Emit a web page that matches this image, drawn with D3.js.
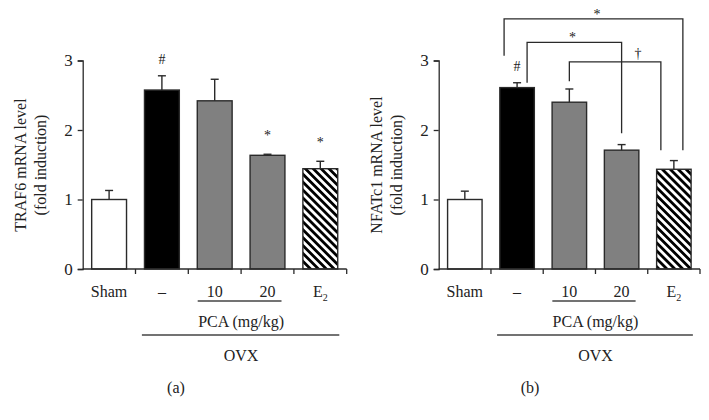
<!DOCTYPE html>
<html><head><meta charset="utf-8">
<script src="https://cdn.jsdelivr.net/npm/d3@7"></script>
<style>
html,body{margin:0;padding:0;background:#fff;}
svg{display:block;}
text{font-family:"Liberation Serif","DejaVu Serif",serif;fill:#222;}
</style></head>
<body>
<svg id="chart" width="709" height="420"></svg>
<script>
// ---- data ----
const categories = ["Sham", "–", "10", "20", "E2"];
const yTicks = [0, 1, 2, 3];
const trafMeans = [1.0, 2.575, 2.42, 1.636, 1.443];
const trafErr   = [0.13, 0.205, 0.31, 0.015, 0.107];
const trafMarks = ["", "#", "", "*", "*"];
const nfatMeans = [1.0, 2.61, 2.40, 1.71, 1.435];
const nfatErr   = [0.12, 0.07, 0.19, 0.08, 0.125];
const nfatMarks = ["", "#", "", "", ""];
// significance brackets for panel b (category indices, heights in fold-units)
const bracketFrom   = [1, 1, 2];
const bracketTo     = [4, 3, 4];
const bracketLabels = ["*", "*", "†"];
const bracketTop    = [3.60, 3.26, 2.98];
const bracketLeftEnd  = [3.07, 2.68, 2.70];
const bracketRightEnd = [1.71, 1.955, 1.71];

const fills = ["#ffffff", "#000000", "#808080", "#808080", "url(#hatch)"];

const svg = d3.select("#chart");
const defs = svg.append("defs");
const pat = defs.append("pattern").attr("id", "hatch")
  .attr("patternUnits", "userSpaceOnUse").attr("width", 5.6).attr("height", 10)
  .attr("patternTransform", "rotate(-45)");
pat.append("rect").attr("width", 5.6).attr("height", 10).attr("fill", "#fff");
pat.append("rect").attr("width", 2.8).attr("height", 10).attr("fill", "#000");

const y = d3.scaleLinear().domain([0, 3]).range([269, 60.5]);
const ink = "#2a2a2a";

function panel(opts) {
  const x = d3.scaleBand().domain(categories).range(opts.xr).paddingInner(0.34).paddingOuter(0.17);
  const g = svg.append("g");
  // y axis
  const yAx = g.append("g").attr("transform", `translate(${opts.xr[0]},0)`)
    .call(d3.axisLeft(y).tickValues(yTicks).tickFormat(d3.format("d")).tickSize(5).tickPadding(5));
  yAx.select(".domain").attr("stroke", ink).attr("stroke-width", 1.3);
  yAx.selectAll(".tick line").attr("stroke", ink).attr("stroke-width", 1.3);
  yAx.selectAll(".tick text").attr("font-size", 17).attr("fill", "#222");

  // bars
  g.selectAll("rect.bar").data(opts.means).join("rect").attr("class", "bar")
    .attr("x", (d, i) => x(categories[i]))
    .attr("width", x.bandwidth())
    .attr("y", d => y(d))
    .attr("height", d => y(0) - y(d))
    .attr("fill", (d, i) => fills[i])
    .attr("stroke", ink).attr("stroke-width", 1.4);

  // error bars (upper only)
  opts.means.forEach((m, i) => {
    const cx = x(categories[i]) + x.bandwidth() / 2;
    const top = y(m + opts.err[i]);
    g.append("line").attr("x1", cx).attr("x2", cx).attr("y1", y(m)).attr("y2", top)
      .attr("stroke", ink).attr("stroke-width", 1.4);
    g.append("line").attr("x1", cx - 4).attr("x2", cx + 4).attr("y1", top).attr("y2", top)
      .attr("stroke", ink).attr("stroke-width", 1.4);
    if (opts.marks[i]) {
      g.append("text").attr("x", cx).attr("y", top - (opts.marks[i] === "#" ? 12 : 14))
        .attr("text-anchor", "middle").attr("font-size", 14).text(opts.marks[i]);
    }
  });

  // x axis
  const bounds = categories.map(c => x(c) - x.step() * x.paddingInner() / 2);
  bounds[0] = opts.xr[0];
  bounds.push(opts.xr[1]);
  g.append("line").attr("x1", opts.xr[0]).attr("x2", opts.xr[1]).attr("y1", y(0)).attr("y2", y(0))
    .attr("stroke", ink).attr("stroke-width", 1.3);
  g.selectAll("line.xt").data(bounds.slice(1)).join("line").attr("class", "xt")
    .attr("x1", d => d).attr("x2", d => d).attr("y1", y(0)).attr("y2", y(0) + 5)
    .attr("stroke", ink).attr("stroke-width", 1.3);

  // category labels
  categories.forEach((c, i) => {
    const cx = x(c) + x.bandwidth() / 2;
    const t = g.append("text").attr("x", cx).attr("y", 297).attr("text-anchor", "middle").attr("font-size", 16);
    if (c === "E2") {
      t.append("tspan").text("E");
      t.append("tspan").attr("font-size", 10).attr("dy", 4).text("2");
    } else t.text(c);
  });
  const c2 = x("10") + x.bandwidth() / 2, c3 = x("20") + x.bandwidth() / 2;
  g.append("line").attr("x1", c2 - 17).attr("x2", c3 + 14).attr("y1", 301).attr("y2", 301)
    .attr("stroke", "#444").attr("stroke-width", 1.5);
  g.append("text").attr("x", (c2 + c3) / 2).attr("y", 327).attr("text-anchor", "middle").attr("font-size", 16).text("PCA (mg/kg)");
  const c1 = x("–") + x.bandwidth() / 2, c4 = x("E2") + x.bandwidth() / 2;
  g.append("line").attr("x1", c1 - 20).attr("x2", c4 + 19).attr("y1", 335).attr("y2", 335)
    .attr("stroke", "#444").attr("stroke-width", 1.5);
  g.append("text").attr("x", (c2 + c3) / 2).attr("y", 361).attr("text-anchor", "middle").attr("font-size", 16).text("OVX");
  g.append("text").attr("x", opts.panelX).attr("y", 393).attr("text-anchor", "middle").attr("font-size", 16).text(opts.panel);

  // y title
  const tx = opts.xr[0] - 57;
  const yt = g.append("text").attr("transform", `translate(${tx},165) rotate(-90)`).attr("text-anchor", "middle").attr("font-size", 16);
  yt.append("tspan").attr("x", 0).attr("y", 0).text(opts.title);
  yt.append("tspan").attr("x", 0).attr("y", 20).text("(fold induction)");
  return x;
}

panel({xr: [82.7, 346.7], means: trafMeans, err: trafErr, marks: trafMarks,
  title: "TRAF6 mRNA level", panel: "(a)", panelX: 176});
const xb = panel({xr: [438.7, 700], means: nfatMeans, err: nfatErr, marks: nfatMarks,
  title: "NFATc1 mRNA level", panel: "(b)", panelX: 530});

// brackets in panel b
const legOffL = [-13, 10, 0], legOffR = [9, 0, -13], labelFrac = [0.52, 0.48, 0.75];
const bg = svg.append("g");
bracketFrom.forEach((f, k) => {
  const xl = xb(categories[f]) + xb.bandwidth() / 2 + legOffL[k];
  const xr = xb(categories[bracketTo[k]]) + xb.bandwidth() / 2 + legOffR[k];
  const yt = y(bracketTop[k]);
  bg.append("path")
    .attr("d", `M${xl},${y(bracketLeftEnd[k])}V${yt}H${xr}V${y(bracketRightEnd[k])}`)
    .attr("fill", "none").attr("stroke", ink).attr("stroke-width", 1.3);
  bg.append("text").attr("x", xl + (xr - xl) * labelFrac[k]).attr("y", yt - (bracketLabels[k] === "†" ? 4 : 0))
    .attr("text-anchor", "middle").attr("font-size", 14).text(bracketLabels[k]);
});
</script>
</body></html>
